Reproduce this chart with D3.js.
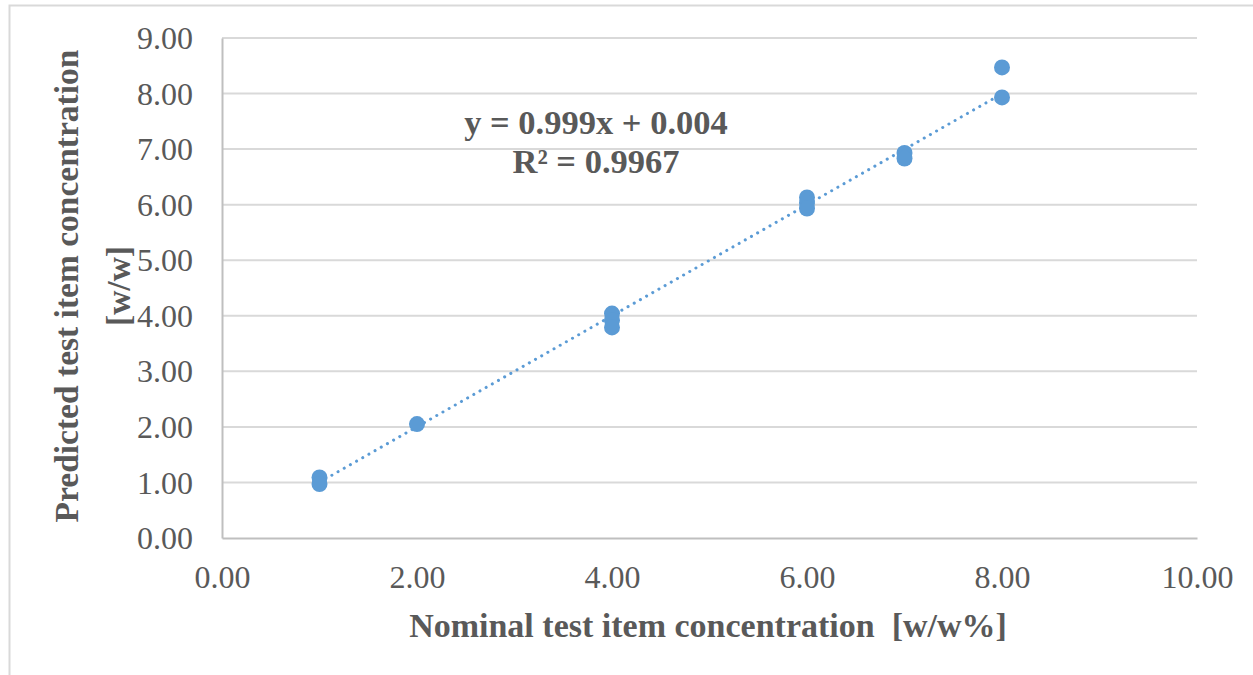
<!DOCTYPE html>
<html>
<head>
<meta charset="utf-8">
<script src="https://cdn.jsdelivr.net/npm/d3@7"></script>
<style>
  html, body { margin: 0; padding: 0; background: #fff; overflow: hidden; }
  text { font-family: "Liberation Serif", "Times New Roman", serif; }
</style>
</head>
<body>
<div id="chart"></div>
<script>
var width = 1253;
var height = 675;

// nominal concentrations and predicted values
var nominal = [1, 1, 2, 4, 4, 4, 6, 6, 6, 7, 7, 8, 8];
var predicted = [1.09, 0.97, 2.05, 4.04, 3.92, 3.79, 6.13, 6.03, 5.93, 6.93, 6.83, 8.47, 7.93];

// trend line as printed on the chart
var slope = 0.999;
var intercept = 0.004;
var trendRange = [1, 8];
var eqLines = ["y = 0.999x + 0.004", "R\u00b2 = 0.9967"];

var xTicks = [0, 2, 4, 6, 8, 10];
var yTicks = [0, 1, 2, 3, 4, 5, 6, 7, 8, 9];

var xTitle = "Nominal test item concentration\u00a0 [w/w%]";
var yTitle = ["Predicted test item concentration", "[w/w]"];

var margin = { left: 222, top: 38, right: 56, bottom: 137 };

var svg = d3.select("#chart")
    .append("svg")
    .attr("width", width)
    .attr("height", height);

// outer chart frame (cropped on right and bottom)
svg.append("rect")
    .attr("x", 9.5)
    .attr("y", 5.5)
    .attr("width", width + 20)
    .attr("height", height + 20)
    .attr("fill", "none")
    .attr("stroke", "#d9d9d9")
    .attr("stroke-width", 2);

var x = d3.scaleLinear()
    .domain([0, 10])
    .range([margin.left, width - margin.right]);

var y = d3.scaleLinear()
    .domain([0, 9])
    .range([height - margin.bottom, margin.top]);

// horizontal gridlines
svg.append("g")
    .selectAll("line")
    .data(yTicks.slice(1))
    .enter()
    .append("line")
    .attr("x1", x(0))
    .attr("x2", x(10))
    .attr("y1", function(d) { return y(d); })
    .attr("y2", function(d) { return y(d); })
    .attr("stroke", "#d9d9d9")
    .attr("stroke-width", 2);

// axes
var xAxis = svg.append("g")
    .attr("transform", "translate(0," + y(0) + ")")
    .call(d3.axisBottom(x).tickValues(xTicks).tickSize(0).tickPadding(27)
        .tickFormat(d3.format(".2f")));

var yAxis = svg.append("g")
    .attr("transform", "translate(" + x(0) + ",0)")
    .call(d3.axisLeft(y).tickValues(yTicks).tickSize(0).tickPadding(29)
        .tickFormat(d3.format(".2f")));

[xAxis, yAxis].forEach(function(a) {
    a.select(".domain").attr("stroke", "#bfbfbf").attr("stroke-width", 2);
    a.selectAll("text")
        .attr("font-size", 32)
        .attr("fill", "#595959")
        .style("font-family", "'Liberation Serif', serif");
});
yAxis.selectAll("text").attr("dy", "0.33em");
xAxis.selectAll("text").attr("dy", "0.71em");

// dotted trend line
svg.append("line")
    .attr("x1", x(trendRange[0]))
    .attr("y1", y(slope * trendRange[0] + intercept))
    .attr("x2", x(trendRange[1]))
    .attr("y2", y(slope * trendRange[1] + intercept))
    .attr("stroke", "#5b9bd5")
    .attr("stroke-width", 3)
    .attr("stroke-linecap", "round")
    .attr("stroke-dasharray", "0.1 7");

// data points
svg.append("g")
    .selectAll("circle")
    .data(nominal)
    .enter()
    .append("circle")
    .attr("cx", function(d) { return x(d); })
    .attr("cy", function(d, i) { return y(predicted[i]); })
    .attr("r", 8)
    .attr("fill", "#5b9bd5");

// equation label
svg.append("g")
    .selectAll("text")
    .data(eqLines)
    .enter()
    .append("text")
    .attr("x", 596)
    .attr("y", function(d, i) { return 134 + i * 39; })
    .attr("text-anchor", "middle")
    .attr("font-size", 34.5)
    .attr("font-weight", "bold")
    .attr("fill", "#595959")
    .text(function(d) { return d; });

// axis titles
svg.append("text")
    .attr("x", 708)
    .attr("y", 637)
    .attr("text-anchor", "middle")
    .attr("font-size", 34)
    .attr("font-weight", "bold")
    .attr("fill", "#595959")
    .text(xTitle);

svg.append("g")
    .attr("transform", "translate(78,286) rotate(-90)")
    .selectAll("text")
    .data(yTitle)
    .enter()
    .append("text")
    .attr("x", 0)
    .attr("y", function(d, i) { return i * 52; })
    .attr("text-anchor", "middle")
    .attr("font-size", 33.5)
    .attr("font-weight", "bold")
    .attr("fill", "#595959")
    .text(function(d) { return d; });
</script>
</body>
</html>
